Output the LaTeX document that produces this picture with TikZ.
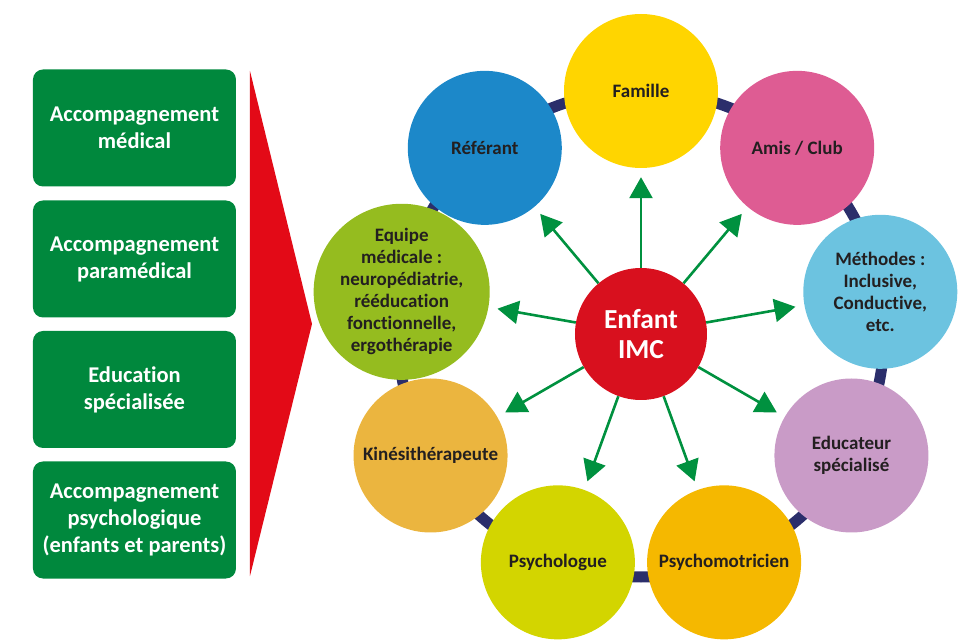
\documentclass[tikz,border=0pt]{standalone}
\usepackage{fontspec}
\setmainfont{Carlito}[Ligatures=NoCommon]
\usepackage{tikz}
\usetikzlibrary{arrows.meta}
\definecolor{imcGreen}{HTML}{00883D}
\definecolor{imcRed}{HTML}{D8101E}
\definecolor{imcWedge}{HTML}{E30A17}
\definecolor{imcNavy}{HTML}{2B2E6B}
\definecolor{imcArrowGreen}{HTML}{00913F}
\definecolor{imcText}{HTML}{231F20}
\definecolor{cFamille}{HTML}{FFD500}
\definecolor{cAmis}{HTML}{DE5C93}
\definecolor{cMethodes}{HTML}{6CC3E0}
\definecolor{cEducateur}{HTML}{C99BC7}
\definecolor{cPsychomot}{HTML}{F5B800}
\definecolor{cPsychologue}{HTML}{D3D500}
\definecolor{cKine}{HTML}{EBB53F}
\definecolor{cEquipe}{HTML}{95BC1F}
\definecolor{cReferant}{HTML}{1C88C9}
\tikzset{
  imcBox/.style={rounded corners=10pt, fill=imcGreen, align=center, text=white, font=\fontsize{22.5}{27}\selectfont\bfseries, minimum width=203pt, minimum height=117pt, inner sep=0pt},
  imcCircle/.style={circle, minimum size=154pt, inner sep=0pt, align=center, text=imcText, font=\fontsize{19}{22}\selectfont\bfseries},
  imcCenter/.style={circle, fill=imcRed, minimum size=132pt, inner sep=0pt, align=center, text=white, font=\fontsize{27.5}{30}\selectfont\bfseries},
  imcArrow/.style={-{Triangle[length=21pt, width=23pt]}, line width=2.6pt, draw=imcArrowGreen, shorten >=9pt},
  imcRing/.style={draw=imcNavy, line width=11pt}
}

\begin{document}
\begin{tikzpicture}[x=1pt, y=1pt]
      \useasboundingbox (-641,-308) rectangle (326,334);
      % left column
      \node[imcBox] (medical) at (-506.5,206) {Accompagnement\\médical};
      \node[imcBox] (paramedical) at (-506.5,75) {Accompagnement\\paramédical};
      \node[imcBox] (education) at (-506.5,-55.5) {Education\\spécialisée};
      \node[imcBox] (psychologique) at (-506.5,-186) {Accompagnement\\psychologique\\(enfants et parents)};
      \fill[imcWedge] (-391,263) -- (-329,10) -- (-391,-242) -- cycle;
      % ring
      \draw[imcRing] (0,0) circle (243);
      \node[imcCircle, fill=cFamille] (famille) at (90:243) {Famille};
      \node[imcCircle, fill=cAmis] (amis) at (50:243) {Amis / Club};
      \node[imcCircle, fill=cMethodes] (methodes) at (10:243) {Méthodes :\\Inclusive,\\Conductive,\\etc.};
      \node[imcCircle, fill=cEducateur] (educateur) at (-30:243) {Educateur\\spécialisé};
      \node[imcCircle, fill=cPsychomot] (psychomot) at (-70:243) {Psychomotricien};
      \node[imcCircle, fill=cPsychologue] (psychologue) at (-110:243) {Psychologue};
      \node[imcCircle, fill=cKine] (kine) at (-150:243) {Kinésithérapeute};
      \node[imcCircle, fill=cEquipe] (equipe) at (170:243) {Equipe\\médicale :\\neuropédiatrie,\\rééducation\\fonctionnelle,\\ergothérapie};
      \node[imcCircle, fill=cReferant] (referant) at (130:243) {Référant};
      \node[imcCenter] (enfant) at (0,0) {Enfant\\IMC};
      \draw[imcArrow] (enfant) -- (famille);
      \draw[imcArrow] (enfant) -- (amis);
      \draw[imcArrow] (enfant) -- (methodes);
      \draw[imcArrow] (enfant) -- (educateur);
      \draw[imcArrow] (enfant) -- (psychomot);
      \draw[imcArrow] (enfant) -- (psychologue);
      \draw[imcArrow] (enfant) -- (kine);
      \draw[imcArrow] (enfant) -- (equipe);
      \draw[imcArrow] (enfant) -- (referant);
    \end{tikzpicture}
\end{document}
